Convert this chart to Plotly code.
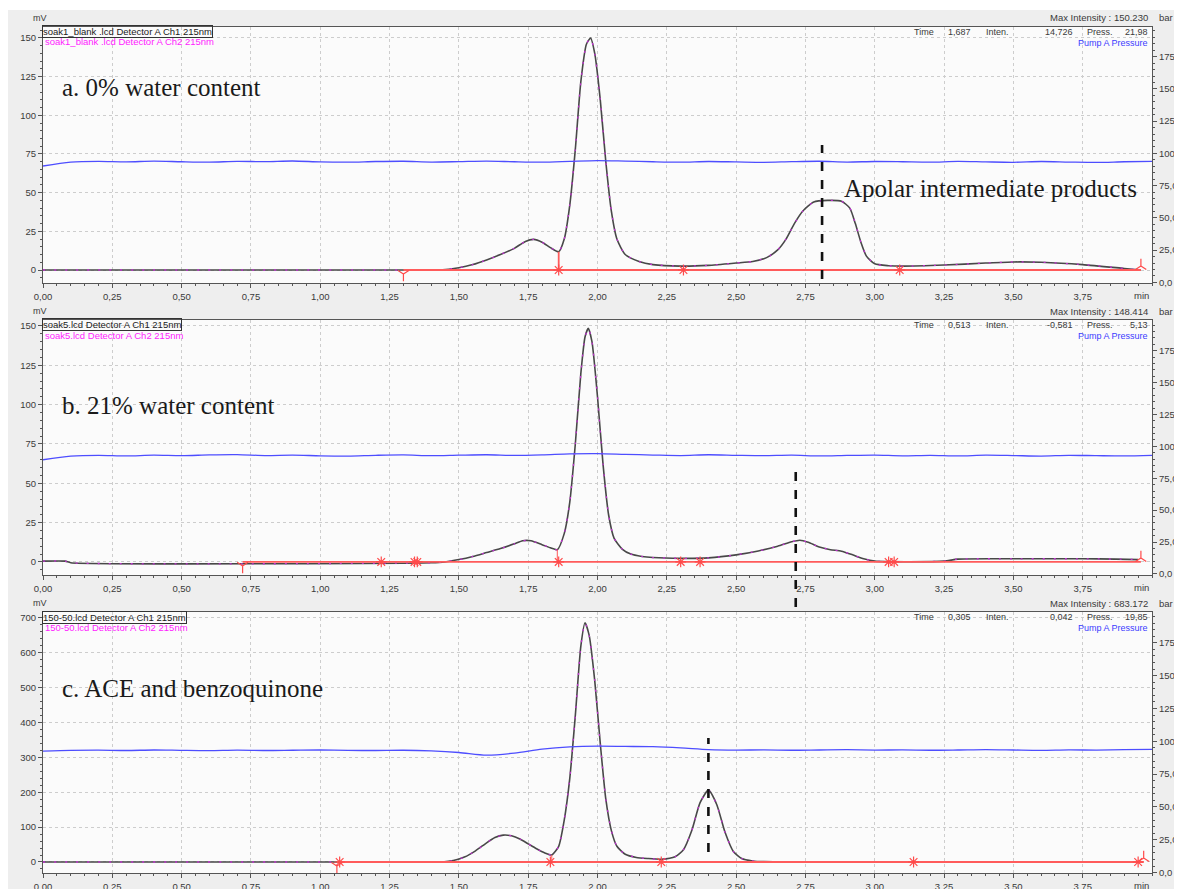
import numpy as np
import plotly.graph_objects as go

# ---------------- data ----------------
time_ticks = [0.00, 0.25, 0.50, 0.75, 1.00, 1.25, 1.50, 1.75, 2.00, 2.25, 2.50, 2.75, 3.00, 3.25, 3.50, 3.75]
time_tick_labels = ["0,00", "0,25", "0,50", "0,75", "1,00", "1,25", "1,50", "1,75", "2,00",
                    "2,25", "2,50", "2,75", "3,00", "3,25", "3,50", "3,75"]
left_ticks_ab = [0, 25, 50, 75, 100, 125, 150]
left_ticks_c = [0, 100, 200, 300, 400, 500, 600, 700]
right_ticks = [0, 25, 50, 75, 100, 125, 150, 175]
right_tick_labels = ["0,0", "25,0", "50,0", "75,0", "100,0", "125,0", "150,0", "175,0"]

# Panel a: 0% water content (mV)
tA = [0.00, 1.30, 1.43, 1.50, 1.55, 1.60, 1.65, 1.70, 1.74, 1.77, 1.80, 1.83, 1.86, 1.88, 1.90, 1.92,
      1.94, 1.96, 1.975, 1.99, 2.01, 2.03, 2.05, 2.07, 2.10, 2.15, 2.20, 2.30, 2.40, 2.50, 2.56, 2.61,
      2.65, 2.68, 2.71, 2.74, 2.78, 2.83, 2.88, 2.91, 2.93, 2.95, 2.97, 3.00, 3.05, 3.10, 3.25, 3.40,
      3.50, 3.60, 3.75, 3.90, 3.96]
sA = [0, 0, 0, 1.5, 3.5, 6.5, 10, 14, 18.5, 19.8, 18, 14.5, 11.8, 20, 42, 78,
      122, 146, 150, 140, 110, 70, 38, 20, 10, 5.5, 3.5, 2.5, 3, 4.5, 5.5, 8,
      13, 20, 30, 38, 44, 45, 44.5, 40, 30, 18, 9, 4, 2.8, 2.5, 3.2, 4.5,
      5.2, 5, 3.5, 1, 0]

# Panel b: 21% water content (mV)
tB = [0.00, 0.08, 0.10, 1.40, 1.45, 1.50, 1.55, 1.60, 1.65, 1.70, 1.73, 1.76, 1.80, 1.83, 1.855,
      1.88, 1.90, 1.92, 1.94, 1.955, 1.967, 1.98, 2.00, 2.02, 2.04, 2.06, 2.09, 2.12, 2.16, 2.20,
      2.30, 2.40, 2.50, 2.58, 2.65, 2.70, 2.73, 2.76, 2.80, 2.84, 2.88, 2.92, 2.96, 3.00, 3.25,
      3.30, 3.50, 3.75, 3.87, 3.95]
sB = [0.5, 0.5, -0.5, -0.5, 0, 1.5, 3.5, 6, 8.5, 11.5, 13.5, 13.5, 11, 9, 7.8,
      18, 38, 75, 120, 143, 148.5, 140, 105, 62, 30, 15, 8, 5, 3.5, 2.8,
      2.3, 2.6, 4.5, 7, 10, 12.8, 13.8, 12.5, 9.5, 7.8, 6.8, 4.5, 2, 0.5, 0.5,
      1.8, 2, 2, 1.8, 1.5]

# Panel c: ACE and benzoquinone (mV)
tC = [0.00, 1.24, 1.44, 1.48, 1.52, 1.56, 1.60, 1.63, 1.66, 1.69, 1.72, 1.75, 1.78, 1.81, 1.835,
      1.86, 1.88, 1.90, 1.92, 1.94, 1.955, 1.97, 1.99, 2.01, 2.03, 2.05, 2.07, 2.10, 2.14, 2.18,
      2.23, 2.28, 2.31, 2.34, 2.37, 2.40, 2.43, 2.46, 2.49, 2.52, 2.56, 2.60, 2.78, 3.22, 3.62, 3.96]
sC = [0, 0, 0, 4, 14, 32, 55, 70, 77, 75, 66, 52, 38, 26, 20,
      45, 120, 240, 420, 620, 686, 650, 520, 340, 180, 90, 45, 22, 13, 10,
      8, 15, 35, 90, 170, 206, 165, 85, 30, 10, 3, 1, 0, 0, 0, 0]

# Pump A pressure (bar), every 0.1 min from 0.0 to 4.0
p_time = [0.0, 0.1, 0.2, 0.3, 0.4, 0.5, 0.6, 0.7, 0.8, 0.9, 1.0, 1.1, 1.2, 1.3, 1.4, 1.5, 1.6, 1.7,
          1.8, 1.9, 2.0, 2.1, 2.2, 2.3, 2.4, 2.5, 2.6, 2.7, 2.8, 2.9, 3.0, 3.1, 3.2, 3.3, 3.4, 3.5,
          3.6, 3.7, 3.8, 3.9, 4.0]
pA = [90.2, 93.2, 93.8, 93.4, 94.0, 93.5, 93.2, 93.8, 93.6, 94.1, 93.4, 93.2, 93.7, 93.9, 93.3,
      93.6, 94.0, 93.5, 93.2, 93.8, 94.4, 94.0, 93.5, 93.2, 93.7, 93.4, 93.1, 93.6, 93.9, 93.3,
      93.7, 93.5, 93.2, 93.8, 93.4, 93.1, 93.7, 93.3, 93.0, 93.5, 93.8]
pB = [89.5, 92.3, 93.0, 92.5, 93.1, 92.7, 93.3, 93.5, 92.8, 93.1, 92.6, 92.4, 93.0, 93.3, 92.7,
      93.1, 93.4, 92.9, 93.3, 94.1, 94.3, 93.7, 93.2, 92.8, 93.4, 93.0, 92.7, 93.1, 92.5, 92.9,
      93.2, 92.6, 93.0, 92.5, 93.1, 92.8, 92.4, 93.0, 92.7, 92.5, 93.0]
pC = [92.5, 93.1, 93.3, 93.0, 93.4, 93.1, 92.9, 93.3, 93.0, 93.2, 93.4, 93.1, 93.0, 93.2, 92.7,
      91.5, 89.5, 91.0, 94.0, 95.7, 96.3, 96.1, 95.9, 95.0, 93.7, 93.3, 93.5, 93.2, 93.4, 93.6,
      93.3, 93.5, 93.2, 93.4, 93.7, 93.4, 93.1, 93.5, 93.3, 93.6, 93.8]

# Integration events (min)
evA = [1.30, 1.86, 2.31, 3.09, 3.96]
evB = [0.72, 1.22, 1.34, 1.35, 1.86, 2.30, 2.37, 3.05, 3.07, 3.96]
evC = [1.06, 1.07, 1.83, 2.23, 3.14, 3.95, 3.97]
dropA, dropB, dropC = 1.86, 1.855, 1.835
markA, markB, markC = 2.81, 2.715, 2.40

file_names = ["soak1_blank .lcd", "soak5.lcd", "150-50.lcd"]
max_intensity = ["150.230", "148.414", "683.172"]
cursor_time = ["1,687", "0,513", "0,305"]
cursor_inten = ["14,726", "-0,581", "0,042"]
cursor_press = ["21,98", "5,13", "19,85"]
panel_titles = ["a. 0% water content", "b. 21% water content", "c. ACE and benzoquinone"]
peak_note = "Apolar intermediate products"

# ---------------- layout geometry ----------------
# The page body adds an 8 px offset; the figure is sized so that it fills the window.
OFF = 8
W, H = 1182 - OFF, 889 - OFF
ML, MR, MT, MB = 43 - OFF, 30, 27 - OFF, 16
PW = W - ML - MR
PH = H - MT - MB


def px(x):  # screen pixel -> paper fraction
    return (x - OFF - ML) / PW


def py(y):
    return (H - MB - (y - OFF)) / PH


panel_px = [(27, 283), (320, 575), (612, 873)]  # top, bottom of plot areas (screen px)
left_ranges = [[-8.4, 157.1], [-8.3, 153.8], [-31.6, 717]]
right_ranges = [[-0.5, 198.0], [-0.8, 199.0], [-0.3, 198.5]]
header_y = [18, 311, 603]

FONT = "Liberation Sans, Arial, sans-serif"
SERIF = "Liberation Serif, Times New Roman, serif"
TXT = "#3a3a3a"

fig = go.Figure()
data_sets = [(tA, sA, pA, evA, dropA, markA), (tB, sB, pB, evB, dropB, markB), (tC, sC, pC, evC, dropC, markC)]

for i, (t, s, p, ev, drop, mark) in enumerate(data_sets):
    xa = "x" if i == 0 else f"x{i+1}"
    ya = "y" if i == 0 else f"y{i+1}"
    yr = f"y{i+4}"
    # Ch1 (dark gray) with Ch2 (magenta) speckled on top
    fig.add_trace(go.Scatter(x=t, y=s, xaxis=xa, yaxis=ya, mode="lines",
                             line=dict(color="#484848", width=1.6, shape="spline", smoothing=0.6),
                             hoverinfo="skip", showlegend=False))
    fig.add_trace(go.Scatter(x=t, y=s, xaxis=xa, yaxis=ya, mode="lines",
                             line=dict(color="#c030d0", width=1.3, shape="spline", smoothing=0.6,
                                       dash="2px,9px"),
                             hoverinfo="skip", showlegend=False))
    # red baseline
    fig.add_trace(go.Scatter(x=[ev[0], ev[-1]], y=[0, 0], xaxis=xa, yaxis=ya, mode="lines",
                             line=dict(color="#ff5b5b", width=1.8), hoverinfo="skip", showlegend=False))
    # red drop line at valley
    vval = float(np.interp(drop, t, s))
    fig.add_trace(go.Scatter(x=[drop, drop], y=[0, vval], xaxis=xa, yaxis=ya, mode="lines",
                             line=dict(color="#ff5b5b", width=1.8 if i == 0 else 1.0),
                             hoverinfo="skip", showlegend=False))
    # event markers
    top, bot = panel_px[i]
    upx = (left_ranges[i][1] - left_ranges[i][0]) / (bot - top)  # data units per pixel
    mx, my, ms = [], [], []
    for k, e in enumerate(ev):
        mx.append(e)
        if k == 0:
            my.append(-4 * upx); ms.append("y-down-open")
        elif k == len(ev) - 1:
            my.append(4 * upx); ms.append("y-up-open")
        else:
            my.append(0); ms.append("asterisk-open")
    fig.add_trace(go.Scatter(x=mx, y=my, xaxis=xa, yaxis=ya, mode="markers",
                             marker=dict(symbol=ms, size=9, color="#ff4a4a",
                                         line=dict(color="#ff4a4a", width=1.2)),
                             hoverinfo="skip", showlegend=False))
    # pump pressure
    fig.add_trace(go.Scatter(x=p_time, y=p, xaxis=xa, yaxis=yr, mode="lines",
                             line=dict(color="#4d4dff", width=1.3, shape="spline", smoothing=0.8),
                             hoverinfo="skip", showlegend=False))

# ---------------- axes ----------------
axis_font = dict(family=FONT, size=9.5, color=TXT)
layout = dict(
    width=W, height=H,
    margin=dict(l=ML, r=MR, t=MT, b=MB, autoexpand=False),
    paper_bgcolor="#eeeeee",
    plot_bgcolor="#fbfbfb",
    showlegend=False,
)
for i in range(3):
    top, bot = panel_px[i]
    dom = [py(bot), py(top)]
    xk = "xaxis" if i == 0 else f"xaxis{i+1}"
    yk = "yaxis" if i == 0 else f"yaxis{i+1}"
    rk = f"yaxis{i+4}"
    ya = "y" if i == 0 else f"y{i+1}"
    xa = "x" if i == 0 else f"x{i+1}"
    layout[xk] = dict(domain=[0, 1], anchor=ya, range=[0, 4.0], tickvals=time_ticks,
                      ticktext=time_tick_labels, ticks="outside", ticklen=4, tickcolor="#555",
                      minor=dict(dtick=0.05, ticks="outside", ticklen=2, tickcolor="#555", showgrid=False),
                      showline=True, linecolor="#555", linewidth=1.2, mirror=True, automargin=False,
                      showgrid=True, gridcolor="#cdcdcd", griddash="dot", gridwidth=1,
                      zeroline=False, tickfont=axis_font)
    lt = left_ticks_ab if i < 2 else left_ticks_c
    layout[yk] = dict(domain=dom, anchor=xa, range=left_ranges[i], tickvals=lt,
                      ticktext=[str(v) for v in lt], ticks="outside", ticklen=4, tickcolor="#555",
                      minor=dict(dtick=5 if i < 2 else 20, ticks="outside", ticklen=2,
                                 tickcolor="#555", showgrid=False),
                      showline=True, linecolor="#555", linewidth=1.2, automargin=False,
                      showgrid=True, gridcolor="#cdcdcd", griddash="dot", gridwidth=1,
                      zeroline=False, tickfont=axis_font)
    layout[rk] = dict(overlaying=ya, anchor=xa, side="right", range=right_ranges[i],
                      tickvals=right_ticks, ticktext=right_tick_labels, ticks="outside",
                      ticklen=4, tickcolor="#555", automargin=False,
                      minor=dict(dtick=5, ticks="outside", ticklen=2, tickcolor="#555", showgrid=False),
                      showline=True, linecolor="#555", linewidth=1.2, showgrid=False,
                      zeroline=False, tickfont=axis_font)
fig.update_layout(**layout)

# ---------------- shapes ----------------
shapes = [
    dict(type="rect", xref="paper", yref="paper", x0=px(OFF), x1=px(1182), y0=py(10), y1=py(OFF),
         fillcolor="white", line=dict(width=0), layer="below"),
]
mark_spans = [(145, 279), (470, 607), (738, 852)]
for i, mk in enumerate([markA, markB, markC]):
    xa = "x" if i == 0 else f"x{i+1}"
    y0p, y1p = mark_spans[i]
    shapes.append(dict(type="line", xref=xa, yref="paper", x0=mk, x1=mk, y0=py(y1p), y1=py(y0p),
                       line=dict(color="#111", width=2.6, dash="dash")))
fig.update_layout(shapes=shapes)

# ---------------- annotations ----------------
anns = []


def ann(x, y, text, size=9, color=TXT, xanchor="left", family=FONT, **kw):
    anns.append(dict(xref="paper", yref="paper", x=px(x), y=py(y), text=text, showarrow=False,
                     xanchor=xanchor, yanchor="middle", font=dict(family=family, size=size, color=color), **kw))


for i in range(3):
    hy = header_y[i]
    top = panel_px[i][0]
    bot = panel_px[i][1]
    ann(40, hy, "mV", xanchor="center")
    ann(1150, hy, f"Max Intensity : {max_intensity[i]}", xanchor="right", size=9.5)
    ann(1157, hy, "bar", size=9.5)
    ann(42, top + 5, f"{file_names[i]} Detector A Ch1 215nm", size=9.5, color="#222",
        bordercolor="#333", borderwidth=1, borderpad=0)
    ann(43, top + 15, f"{file_names[i]} Detector A Ch2 215nm", size=9.5, color="#ff22ff")
    ann(936, top + 5, "Time", xanchor="right", size=9)
    ann(973, top + 5, cursor_time[i], xanchor="right", size=9)
    ann(984, top + 5, "Inten.", size=9)
    ann(1075, top + 5, cursor_inten[i], xanchor="right", size=9)
    ann(1085, top + 5, "Press.", size=9)
    ann(1150, top + 5, cursor_press[i], xanchor="right", size=9)
    ann(1150, top + 16, "Pump A Pressure", xanchor="right", size=9, color="#3b3bff")
    ann(1141, bot + 12, "min", xanchor="center", size=9.5)

ann(60, 87, panel_titles[0], size=25, color="#1a1a1a", family=SERIF)
ann(60, 405, panel_titles[1], size=25, color="#1a1a1a", family=SERIF)
ann(60, 688, panel_titles[2], size=25, color="#1a1a1a", family=SERIF)
ann(842, 188, peak_note, size=25, color="#1a1a1a", family=SERIF)

fig.update_layout(annotations=anns)
fig.write_html("out.html")
